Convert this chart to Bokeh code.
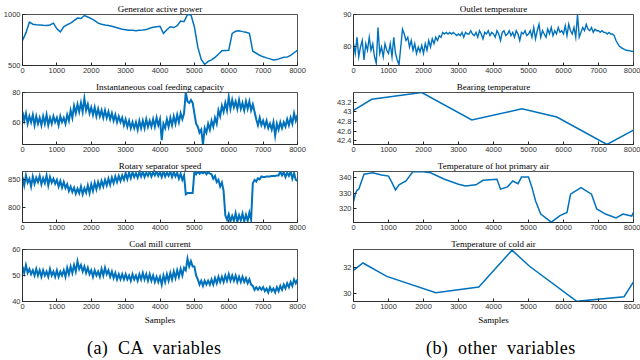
from bokeh.plotting import figure
from bokeh.models import FixedTicker, Div, Range1d
from bokeh.layouts import column, row
from bokeh.embed import file_html
from bokeh.resources import INLINE
import numpy as np

# ---------------- data ----------------
x_ticks = [0, 1000, 2000, 3000, 4000, 5000, 6000, 7000, 8000]

# sample positions of the hand-read series
x100 = np.arange(0, 8001, 100)   # 81 samples
x50 = np.arange(0, 8001, 50)     # 161 samples

gen_power = [745, 820, 925, 905, 900, 898, 895, 893, 898, 915,
             860, 830, 880, 900, 915, 940, 965, 960, 990, 975,
             960, 940, 915, 905, 898, 892, 885, 875, 865, 855,
             850, 845, 845, 840, 845, 848, 852, 865, 875, 880,
             885, 815, 850, 880, 872, 890, 935, 930, 1000, 998,
             880, 680, 560, 510, 540, 555, 580, 610, 645, 648,
             650, 815, 835, 840, 832, 825, 815, 640, 620, 600,
             585, 575, 565, 555, 558, 570, 580, 582, 600, 625, 648]

coal_feed = [67, 61, 66, 59, 64, 60, 65, 58, 64, 59,
             63, 58, 64, 59, 65, 58, 63, 59, 64, 60,
             63, 58, 64, 60, 63, 59, 65, 61, 68, 63,
             71, 66, 72, 67, 73, 67, 76, 68, 72, 66,
             70, 65, 70, 64, 69, 64, 68, 63, 68, 63,
             67, 62, 66, 61, 65, 60, 64, 60, 63, 58,
             62, 57, 61, 56, 60, 56, 60, 55, 61, 56,
             61, 56, 62, 57, 61, 57, 62, 57, 63, 58,
             62, 48, 59, 56, 62, 57, 63, 58, 64, 59,
             65, 60, 66, 62, 66, 80, 74, 73, 75, 73,
             66, 59, 57, 53, 55, 45, 56, 53, 59, 55,
             61, 57, 63, 59, 68, 64, 71, 67, 73, 68,
             77, 69, 75, 70, 74, 69, 75, 69, 73, 68,
             74, 69, 74, 68, 72, 67, 62, 58, 63, 58,
             61, 57, 61, 56, 59, 55, 60, 51, 59, 55,
             60, 56, 60, 57, 62, 58, 63, 59, 66, 61, 65]

separator_speed = [855, 840, 858, 845, 852, 838, 856, 843, 854, 846,
                   857, 842, 853, 844, 858, 840, 855, 845, 852, 843,
                   850, 838, 848, 836, 846, 835, 842, 830, 838, 828,
                   836, 825, 834, 826, 838, 824, 835, 827, 840, 826,
                   842, 830, 845, 833, 846, 836, 848, 838, 850, 840,
                   852, 841, 854, 844, 856, 846, 857, 848, 858, 850,
                   862, 851, 863, 853, 864, 855, 862, 854, 864, 856,
                   865, 855, 863, 857, 865, 856, 864, 858, 865, 857,
                   864, 855, 865, 856, 863, 857, 865, 855, 864, 856,
                   863, 852, 861, 850, 858, 824, 826, 826, 826, 826,
                   864, 860, 865, 861, 864, 862, 865, 860, 864, 861,
                   860, 852, 857, 846, 850, 838, 845, 830, 786, 778,
                   788, 775, 785, 776, 790, 774, 786, 777, 789, 775,
                   787, 776, 791, 778, 844, 850, 847, 853, 851, 856,
                   855, 855, 856, 856, 856, 857, 857, 857, 858, 858,
                   865, 858, 864, 855, 863, 857, 865, 852, 862, 850, 848]

mill_current = [53.5, 51, 54, 51, 52.5, 50.5, 52, 50, 52.5, 50,
                52, 49.5, 52, 50, 51.5, 49.5, 52.5, 50, 51.5, 49.5,
                52, 49.5, 51.5, 50, 52, 49.5, 53, 50.5, 53.5, 51,
                54, 51.5, 55.5, 52.5, 54, 51.5, 53.5, 51, 53, 50.5,
                52, 49.5, 52, 50, 51.5, 49.5, 52.5, 50, 53, 50.5,
                52, 49.5, 51.5, 49, 51, 48.5, 50.5, 48.5, 50.5, 48.5,
                50.5, 48.5, 50, 48, 50.5, 48.5, 50, 48, 50.5, 48.5,
                51, 48.5, 50.5, 48, 50.5, 48, 50, 47.5, 49.5, 47.5,
                49.5, 46.5, 50, 47.5, 50.5, 48, 51, 48.5, 51.5, 49,
                52, 49.5, 52.5, 50, 53, 52, 56.5, 53.5, 55.5, 53.5,
                53.5, 50, 48.5, 46.5, 48, 46, 48, 46.5, 48, 46.5,
                48.5, 46.5, 49, 47, 49.5, 47.5, 49.5, 47.5, 50, 48,
                50.5, 48, 50, 48, 50, 47.5, 49.5, 47.5, 49.5, 47.5,
                49, 47, 48.5, 46.5, 46, 44.5, 45.5, 44.5, 45.5, 44.5,
                45.5, 44, 45, 43.5, 45.5, 44, 45, 43.5, 45.5, 44,
                46, 44.5, 46.5, 45, 47, 45.5, 47.5, 46, 48.5, 47, 48.5]

outlet_temp = [81, 78, 83, 77, 80, 82, 76, 81, 79, 83,
               79, 81, 77, 75, 86, 78, 80, 77, 81, 79,
               78, 81, 77, 83, 78, 76, 74.5, 80, 85.5, 84,
               82, 83, 80, 82, 79, 81, 78, 80, 78.5, 80.5,
               78, 81, 79, 82, 80, 82.5, 81, 83, 82, 83.5,
               83, 84.5, 84, 84.5, 84, 84.5, 84, 84.5, 84, 83.5,
               84, 83.5, 84.5, 83, 84.5, 84, 84, 85, 84, 83.5,
               84.5, 83, 85, 84, 82.5, 84.5, 84, 85, 83.5, 84.5,
               84, 83, 85, 84, 82, 84.5, 85, 83.5, 84, 85,
               83.5, 84.5, 83, 85, 84, 82, 84.5, 84, 85, 83.5,
               84, 85, 83, 86, 82.5, 85, 87, 83, 85, 84,
               83, 85.5, 84, 86, 83.5, 85, 84, 86, 84.5, 85,
               84, 86.5, 83.5, 87, 85, 84, 86, 83, 90, 83,
               84.5, 86, 85, 87, 85.5, 85, 86, 84.5, 85.5, 85,
               85, 84.5, 85, 84.5, 84.5, 84, 84.5, 84, 84, 83.5,
               82, 81, 80.2, 79.8, 79.5, 79.2, 79, 78.9, 78.8, 78.7, 78.6]

bearing_x = [0, 520, 1950, 3380, 4810, 5810, 7240, 8000]
bearing_temp = [43.03, 43.26, 43.4, 42.83, 43.06, 42.89, 42.32, 42.62]

hot_air_x = [0, 50, 100, 150, 200, 300, 550, 800, 1000, 1100, 1200, 1300, 1500,
             1700, 2000, 2200, 2600, 3000, 3200, 3500, 3700, 4100, 4200, 4400,
             4550, 4700, 4800, 5000, 5100, 5200, 5350, 5650, 5900, 6100, 6200,
             6500, 6800, 6950, 7200, 7500, 7700, 7950, 8000]
hot_air_temp = [324.5, 329.2, 331.8, 332.5, 335.7, 342.2, 343.2, 341.7, 341.0,
                336.8, 332.0, 335.3, 337.8, 344.0, 343.9, 343.2, 339.0, 335.7,
                334.6, 335.3, 338.3, 339.0, 332.5, 334.0, 337.8, 336.1, 340.4,
                340.4, 333.5, 325.0, 316.3, 311.0, 315.3, 317.4, 329.2, 333.5,
                329.2, 319.6, 316.3, 313.8, 316.3, 315.0, 317.4]

cold_air_x = [0, 270, 950, 2350, 3580, 4530, 5020, 6380, 7730, 8000]
cold_air_temp = [31.8, 32.36, 31.33, 30.08, 30.51, 33.35, 32.13, 29.41, 29.77, 30.9]

# axis ranges / y ticks
gen_range, gen_ticks, gen_labels = (500, 1000), [500, 1000], ["500", "1000"]
feed_range, feed_ticks, feed_labels = (45, 80), [60, 80], ["60", "80"]
sep_range, sep_ticks, sep_labels = (773, 865), [800, 850], ["800", "850"]
mill_range, mill_ticks, mill_labels = (40, 60), [40, 50, 60], ["40", "50", "60"]
out_range, out_ticks, out_labels = (74.3, 90), [80, 90], ["80", "90"]
bear_range = (42.32, 43.4)
bear_ticks = [42.4, 42.6, 42.8, 43.0, 43.2]
bear_labels = ["42.4", "42.6", "42.8", "43", "43.2"]
hot_range, hot_ticks, hot_labels = (310.8, 344.0), [320, 330, 340], ["320", "330", "340"]
cold_range, cold_ticks, cold_labels = (29.4, 33.4), [30, 32], ["30", "32"]

# ---------------- styling ----------------
BLUE = "#0072BD"
AX = "#262626"
SERIF = "Liberation Serif"
SANS = "Liberation Sans"


def make(title, xs, ys, yr, yticks, ylabels, width, bl, br, height, bb,
         xlabel=None, lw=1.5):
    p = figure(width=width, height=height,
               x_range=Range1d(0, 8000), y_range=Range1d(*yr),
               output_backend="svg", toolbar_location=None,
               min_border_left=bl, min_border_right=br,
               min_border_top=14, min_border_bottom=bb,
               title=title)
    p.title.align = "center"
    p.title.text_font = SERIF
    p.title.text_font_style = "normal"
    p.title.text_font_size = "9px"
    p.title.text_color = "black"
    p.title.standoff = 1
    p.grid.visible = False
    p.outline_line_color = AX
    p.outline_line_width = 0.8
    p.background_fill_color = "white"
    p.border_fill_color = "white"
    for ax in p.axis:
        ax.major_tick_in = 3
        ax.major_tick_out = 0
        ax.minor_tick_in = 0
        ax.minor_tick_out = 0
        ax.major_tick_line_color = AX
        ax.axis_line_color = AX
        ax.axis_line_width = 0.8
        ax.major_label_text_font = SANS
        ax.major_label_text_font_size = "7.5px"
        ax.major_label_text_color = "#333333"
        ax.major_label_standoff = 2
    p.xaxis.ticker = FixedTicker(ticks=x_ticks)
    p.yaxis.ticker = FixedTicker(ticks=yticks)
    p.yaxis.major_label_overrides = {float(t): l for t, l in zip(yticks, ylabels)}
    if xlabel:
        p.xaxis.axis_label = xlabel
        p.xaxis.axis_label_text_font = SERIF
        p.xaxis.axis_label_text_font_style = "normal"
        p.xaxis.axis_label_text_font_size = "9px"
        p.xaxis.axis_label_text_color = "black"
        p.xaxis.axis_label_standoff = 3
    p.line(xs, ys, line_color=BLUE, line_width=lw, line_join="miter")
    return p


LW, LBL, LBR = 316, 19, 19
RW, RBL, RBR = 324, 37, 7
NW = 2.0  # width of the dense (noisy) traces

left = column(
    make("Generator active power", x100, gen_power, gen_range, gen_ticks, gen_labels, LW, LBL, LBR, 78, 13),
    make("Instantaneous coal feeding capacity", x50, coal_feed, feed_range, feed_ticks, feed_labels, LW, LBL, LBR, 79, 13, lw=NW),
    make("Rotary separator speed", x50, separator_speed, sep_range, sep_ticks, sep_labels, LW, LBL, LBR, 78, 13, lw=NW),
    make("Coal mill current", x50, mill_current, mill_range, mill_ticks, mill_labels, LW, LBL, LBR, 92, 26, xlabel="Samples", lw=NW),
    spacing=0)

right = column(
    make("Outlet temperature", x50, outlet_temp, out_range, out_ticks, out_labels, RW, RBL, RBR, 78, 13, lw=1.4),
    make("Bearing temperature", bearing_x, bearing_temp, bear_range, bear_ticks, bear_labels, RW, RBL, RBR, 79, 13),
    make("Temperature of hot primary air", hot_air_x, hot_air_temp, hot_range, hot_ticks, hot_labels, RW, RBL, RBR, 78, 13),
    make("Temperature of cold air", cold_air_x, cold_air_temp, cold_range, cold_ticks, cold_labels, RW, RBL, RBR, 92, 26, xlabel="Samples"),
    spacing=0)


def caption(text, pad_left, width):
    html = ('<div style="font-family:\'Liberation Serif\',\'Times New Roman\',serif;'
            'font-size:18px;line-height:18px;padding-top:7px;padding-left:%dpx;'
            'word-spacing:5px;letter-spacing:0.4px;color:black;white-space:nowrap;">%s</div>'
            % (pad_left, text))
    return Div(text=html, width=width, height=28)


cap_a = caption("(a) CA variables", 82, 316)
cap_b = caption("(b) other variables", 95, 324)

page = column(row(left, right, spacing=0), row(cap_a, cap_b, spacing=0), spacing=0)

open("out.html", "w").write(file_html(page, INLINE))
